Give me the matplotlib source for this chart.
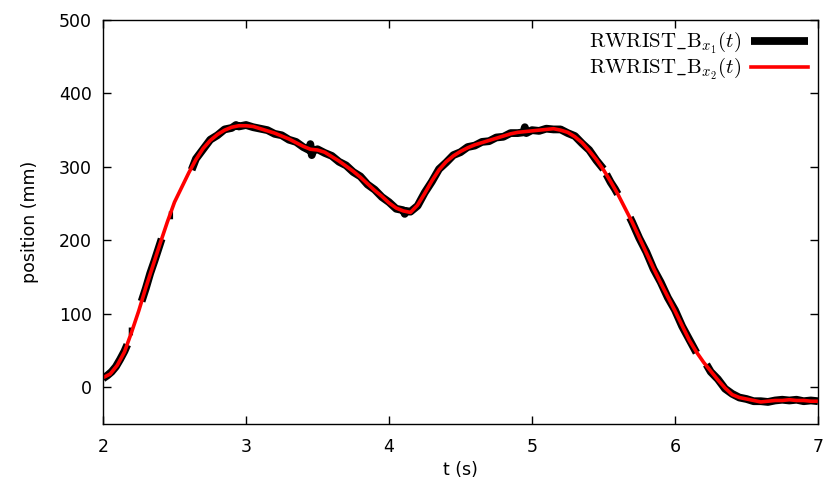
import matplotlib
matplotlib.use("Agg")
import matplotlib.pyplot as plt
import numpy as np

plt.rcParams["mathtext.fontset"] = "cm"
plt.rcParams["font.family"] = "DejaVu Sans"

# smoothed trace (red)
t_fit = [2.00, 2.05, 2.10, 2.15, 2.20, 2.25, 2.30, 2.35, 2.40, 2.45, 2.50, 2.55, 2.60, 2.65,
         2.70, 2.75, 2.80, 2.85, 2.90, 2.95, 3.00, 3.05, 3.10, 3.15, 3.20, 3.25, 3.30, 3.35,
         3.40, 3.45, 3.50, 3.55, 3.60, 3.65, 3.70, 3.75, 3.80, 3.85, 3.90, 3.95, 4.00, 4.05,
         4.10, 4.15, 4.20, 4.25, 4.30, 4.35, 4.40, 4.45, 4.50, 4.55, 4.60, 4.65, 4.70, 4.75,
         4.80, 4.85, 4.90, 4.95, 5.00, 5.05, 5.10, 5.15, 5.20, 5.25, 5.30, 5.35, 5.40, 5.45,
         5.50, 5.55, 5.60, 5.65, 5.70, 5.75, 5.80, 5.85, 5.90, 5.95, 6.00, 6.05, 6.10, 6.15,
         6.20, 6.25, 6.30, 6.35, 6.40, 6.45, 6.50, 6.55, 6.60, 6.65, 6.70, 6.75, 6.80, 6.85,
         6.90, 6.95, 7.00]
x_fit = [13, 18, 30, 48, 75, 104, 136, 166, 196, 225, 252, 272, 292, 310,
         325, 336, 344, 350, 354, 356, 356, 355, 352, 349, 346, 342, 338, 333,
         328, 324, 323, 320, 314, 308, 301, 294, 286, 277, 268, 260, 251, 244,
         240, 238, 248, 264, 281, 296, 307, 315, 321, 326, 330, 333, 336, 339,
         342, 345, 347, 348, 349, 350, 351, 352, 350, 347, 341, 333, 322, 310,
         296, 280, 263, 244, 225, 204, 183, 162, 142, 123, 104, 84, 64, 48,
         34, 22, 10, -1, -10, -14, -16, -18, -20, -19, -18, -18, -17, -18,
         -18, -19, -19]

# raw marker trace (black), NaN where the marker was lost
nan = np.nan
t_raw = [2.00, 2.03, 2.06, 2.09, 2.12, 2.15, 2.17, 2.175,
         2.18, 2.21, 2.215,
         2.27, 2.30, 2.33, 2.36, 2.39, 2.41, 2.42,
         2.46, 2.49, 2.495,
         2.62, 2.65, 2.70, 2.75, 2.80, 2.85, 2.90, 2.93, 2.95, 3.00, 3.05, 3.10, 3.15, 3.20,
         3.25, 3.30, 3.35, 3.40, 3.44, 3.45, 3.46, 3.47, 3.50, 3.55, 3.60, 3.65, 3.70, 3.75,
         3.80, 3.85, 3.90, 3.95, 4.00, 4.05, 4.10, 4.11, 4.12, 4.15, 4.20, 4.25, 4.30, 4.35,
         4.40, 4.45, 4.50, 4.55, 4.60, 4.65, 4.70, 4.75, 4.80, 4.85, 4.90, 4.94, 4.95, 4.96,
         5.00, 5.05, 5.10, 5.15, 5.20, 5.25, 5.30, 5.35, 5.40, 5.45, 5.50, 5.51,
         5.52, 5.55, 5.58, 5.60, 5.61,
         5.685, 5.70, 5.75, 5.80, 5.85, 5.90, 5.95, 6.00, 6.05, 6.10, 6.15, 6.16,
         6.22, 6.25, 6.30, 6.35, 6.40, 6.45, 6.50, 6.55, 6.60, 6.65, 6.70, 6.75, 6.80, 6.85,
         6.90, 6.95, 7.00]
x_raw = [12, 16, 21, 28, 38, 49, 58, nan,
         76, 76, nan,
         117, 135, 155, 172, 190, 202, nan,
         234, 234, nan,
         296, 311, 324, 337, 343, 351, 353, 357, 355, 357, 354, 352, 350, 345,
         343, 337, 334, 327, 323, 331, 316, 322, 324, 319, 315, 307, 302, 293,
         287, 276, 269, 259, 252, 243, 241, 236, 240, 239, 247, 265, 280, 297,
         306, 316, 320, 327, 329, 334, 335, 340, 341, 346, 346, 347, 354, 346,
         350, 349, 352, 351, 351, 346, 342, 332, 323, 309, 297, nan,
         290, 279, 270, 263, nan,
         231, 225, 203, 184, 161, 143, 122, 105, 83, 65, 47, nan,
         31, 21, 11, -2, -9, -14, -16, -19, -19, -20, -18, -17, -18, -17,
         -19, -18, -19]

fig = plt.figure(figsize=(8.24, 4.87), dpi=100)
ax = fig.add_axes([0.125, 0.1294, 0.8677, 0.8296])

ax.plot(t_raw, x_raw, color="black", lw=5.6, solid_capstyle="butt",
        label=r"$\mathrm{RWRIST\_B}_{x_1}(t)$")
ax.plot(t_fit, x_fit, color="#ff0000", lw=2.6,
        label=r"$\mathrm{RWRIST\_B}_{x_2}(t)$")

ax.set_xlim(2, 7)
ax.set_ylim(-50, 500)
ax.set_xticks([2, 3, 4, 5, 6, 7])
ax.set_yticks([0, 100, 200, 300, 400, 500])
ax.tick_params(direction="in", top=True, right=True, length=6, width=1, labelsize=12.5)
ax.tick_params(axis="x", pad=10)
ax.tick_params(axis="y", pad=8)
for sp in ax.spines.values():
    sp.set_linewidth(1)
ax.set_xlabel("t (s)", fontsize=12.5, labelpad=4)
ax.set_ylabel("position (mm)", fontsize=12.5, labelpad=14)

ax.legend(loc="upper right", frameon=False, markerfirst=False, fontsize=15,
          handlelength=2.7, handletextpad=0.5, labelspacing=0.0, borderaxespad=0.2,
          borderpad=0.3)

fig.savefig("out.png", dpi=100)
